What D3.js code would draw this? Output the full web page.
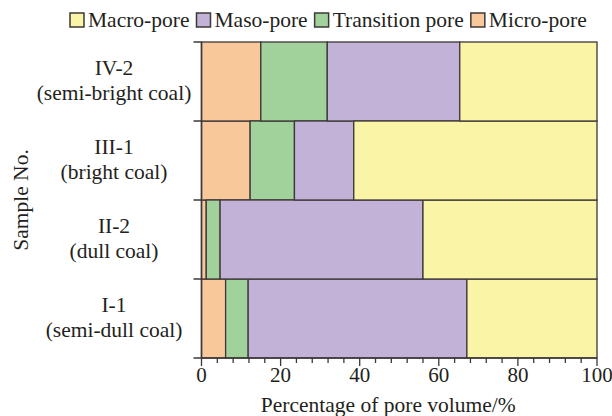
<!DOCTYPE html>
<html>
<head>
<meta charset="utf-8">
<script src="https://cdn.jsdelivr.net/npm/d3@7"></script>
<style>
  body { margin: 0; background: #fff; }
  text { font-family: "Liberation Serif", "Times New Roman", serif; fill: #231f20; }
</style>
</head>
<body>
<svg width="612" height="416"></svg>
<script>
// samples, bottom to top
var samples = ["I-1", "II-2", "III-1", "IV-2"];
var coalTypes = ["(semi-dull coal)", "(dull coal)", "(bright coal)", "(semi-bright coal)"];

// pore volume percentages
var micro = [6.1, 1.2, 12.3, 15.0];
var transition = [5.7, 3.5, 11.2, 16.8];
var maso = [55.3, 51.3, 15.0, 33.5];
var macro = [32.9, 44.0, 61.5, 34.7];

var seriesKeys = ["micro", "transition", "maso", "macro"];
var seriesNames = ["Micro-pore", "Transition pore", "Maso-pore", "Macro-pore"];
var seriesColors = ["#f8c79a", "#a2d29c", "#c3b2d7", "#faf4a6"];
var legendOrder = ["macro", "maso", "transition", "micro"];

var xTicks = [0, 20, 40, 60, 80, 100];

var table = samples.map(function(s, i) {
  return { sample: s, micro: micro[i], transition: transition[i], maso: maso[i], macro: macro[i] };
});

var margin = { top: 42, right: 15, bottom: 58, left: 201.5 };
var width = 612, height = 416;
var svg = d3.select('svg');

var x = d3.scaleLinear()
  .domain([0, 100])
  .range([margin.left, width - margin.right]);

var y = d3.scaleBand()
  .domain(samples.slice().reverse())
  .range([margin.top, height - margin.bottom])
  .padding(0);

var color = d3.scaleOrdinal()
  .domain(seriesKeys)
  .range(seriesColors);

var stacked = d3.stack().keys(seriesKeys)(table);

var edge = "#3d3838";

// bars
svg.append('g')
  .selectAll('g')
  .data(stacked)
  .enter()
  .append('g')
    .attr('fill', d => color(d.key))
  .selectAll('rect')
  .data(d => d)
  .enter()
  .append('rect')
    .attr('x', d => x(d[0]))
    .attr('y', d => y(d.data.sample))
    .attr('width', d => x(d[1]) - x(d[0]))
    .attr('height', y.bandwidth())
    .attr('stroke', edge)
    .attr('stroke-width', 1.3);

// y axis: line + ticks at band edges
var yEdges = samples.map(d => y(d)).concat([y.range()[1]]);
var yAxis = svg.append('g');
yAxis.append('line')
  .attr('x1', x(0)).attr('x2', x(0))
  .attr('y1', y.range()[0]).attr('y2', y.range()[1])
  .attr('stroke', edge).attr('stroke-width', 1.5);
yAxis.selectAll('.ytick')
  .data(yEdges)
  .enter()
  .append('line')
    .attr('x1', x(0) - 8).attr('x2', x(0))
    .attr('y1', d => d).attr('y2', d => d)
    .attr('stroke', edge).attr('stroke-width', 1.5);

// y labels (two lines)
var labels = svg.append('g');
samples.forEach(function(s, i) {
  var cy = y(s) + y.bandwidth() / 2;
  var t = labels.append('text')
    .attr('text-anchor', 'middle')
    .attr('font-size', 21.5);
  t.append('tspan').attr('x', 114).attr('y', cy - 6.5).text(s);
  t.append('tspan').attr('x', 114).attr('y', cy + 18.5).text(coalTypes[i]);
});

svg.append('text')
  .attr('transform', 'translate(28,' + ((y.range()[0] + y.range()[1]) / 2) + ') rotate(-90)')
  .attr('text-anchor', 'middle')
  .attr('font-size', 21.5)
  .text('Sample No.');

// x axis
var xAxisY = y.range()[1];
var xAxis = svg.append('g');
xAxis.append('line')
  .attr('x1', x(0)).attr('x2', x(100))
  .attr('y1', xAxisY).attr('y2', xAxisY)
  .attr('stroke', edge).attr('stroke-width', 1.5);
xAxis.selectAll('.minor')
  .data(d3.range(0, 101, 4))
  .enter()
  .append('line')
    .attr('x1', d => x(d)).attr('x2', d => x(d))
    .attr('y1', xAxisY).attr('y2', d => xAxisY + (d % 20 === 0 ? 8 : 5))
    .attr('stroke', edge).attr('stroke-width', 1.3);
xAxis.selectAll('.lbl')
  .data(xTicks)
  .enter()
  .append('text')
    .attr('x', d => x(d))
    .attr('y', 382)
    .attr('text-anchor', 'middle')
    .attr('font-size', 21)
    .text(d => d);

svg.append('text')
  .attr('x', (x(0) + x(100)) / 2 - 11)
  .attr('y', 412)
  .attr('text-anchor', 'middle')
  .attr('font-size', 21.5)
  .text('Percentage of pore volume/%');

// legend
var legend = svg.append('g');
var lx = 70;
legendOrder.forEach(function(k) {
  var idx = seriesKeys.indexOf(k);
  legend.append('rect')
    .attr('x', lx).attr('y', 13)
    .attr('width', 14).attr('height', 14)
    .attr('fill', color(k))
    .attr('stroke', edge).attr('stroke-width', 1.5);
  var t = legend.append('text')
    .attr('x', lx + 18)
    .attr('y', 27)
    .attr('font-size', 21.5)
    .text(seriesNames[idx]);
  lx = lx + 18 + t.node().getComputedTextLength() + 7;
});
</script>
</body>
</html>
